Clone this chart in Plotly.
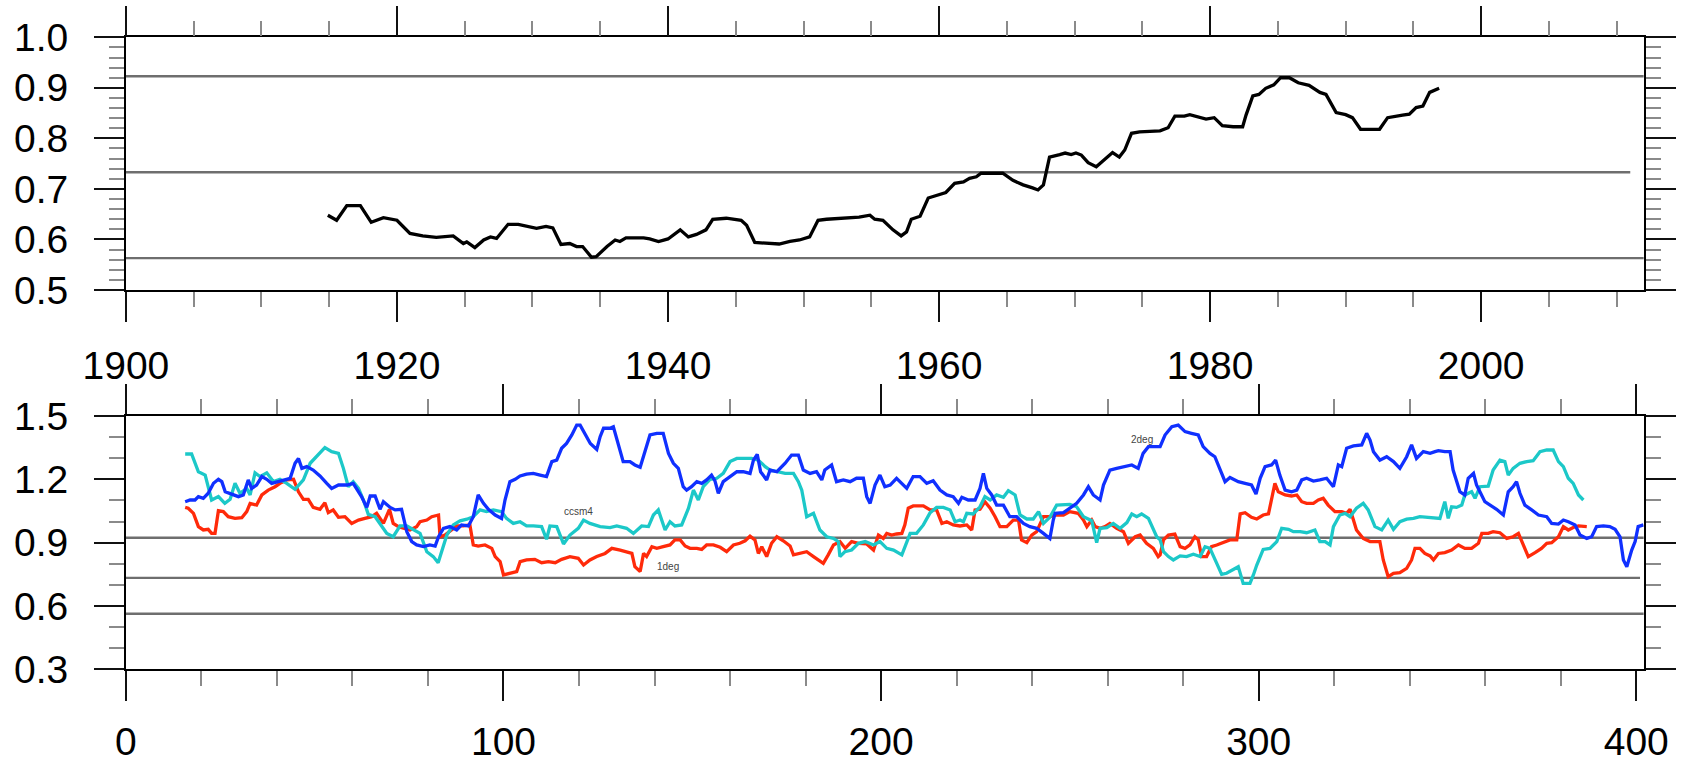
import plotly.graph_objects as go

# ---------------- data ----------------
# Top panel: observed running index (year, value)
top_years = [1914.9, 1915.55, 1916.3, 1917.3, 1918.1, 1919.0, 1920.0, 1920.96, 1921.9, 1922.9,
             1924.15, 1924.9, 1925.15, 1925.75, 1926.4, 1926.9, 1927.35, 1928.2, 1928.95, 1930.3,
             1931.0, 1931.5, 1932.1, 1932.75, 1933.25, 1933.7, 1934.35, 1934.7, 1935.5, 1936.1,
             1936.45, 1936.9, 1938.2, 1938.65, 1939.3, 1940.0, 1940.9, 1941.5, 1942.1, 1942.8,
             1943.3, 1944.3, 1945.4, 1945.8, 1946.4, 1947.25, 1948.2, 1949.0, 1949.7, 1950.45,
             1951.07, 1951.7, 1953.16, 1954.1, 1954.9, 1955.25, 1955.86, 1956.6, 1957.2, 1957.6,
             1957.95, 1958.6, 1959.2, 1960.0, 1960.5, 1961.15, 1961.8, 1962.25, 1962.75, 1963.1,
             1964.0, 1964.7, 1965.45, 1966.2, 1966.9, 1967.3, 1967.7, 1968.15, 1968.9, 1969.3,
             1969.75, 1970.1, 1970.5, 1971.0, 1971.6, 1972.2, 1972.8, 1973.3, 1973.7, 1974.2,
             1974.8, 1976.3, 1976.9, 1977.4, 1978.1, 1978.5, 1979.0, 1979.7, 1980.3, 1980.9,
             1981.7, 1982.4, 1982.65, 1983.15, 1983.6, 1984.1, 1984.7, 1985.2, 1985.85, 1986.5,
             1987.3, 1988.1, 1988.55, 1989.3, 1990.0, 1990.5, 1991.1, 1992.5, 1993.1, 1993.7,
             1994.2, 1994.7, 1995.2, 1995.7, 1996.2, 1996.9]
top_vals = [0.648, 0.638, 0.667, 0.667, 0.634, 0.643, 0.638, 0.612, 0.607, 0.604,
            0.607, 0.592, 0.595, 0.584, 0.599, 0.605, 0.602, 0.630, 0.630, 0.622,
            0.626, 0.623, 0.590, 0.592, 0.586, 0.586, 0.565, 0.566, 0.586, 0.599,
            0.596, 0.603, 0.603, 0.601, 0.596, 0.601, 0.619, 0.605, 0.610, 0.619,
            0.640, 0.642, 0.638, 0.628, 0.594, 0.592, 0.591, 0.596, 0.599, 0.605,
            0.638, 0.640, 0.642, 0.644, 0.648, 0.640, 0.638, 0.619, 0.607, 0.615,
            0.640, 0.646, 0.682, 0.688, 0.693, 0.711, 0.714, 0.721, 0.724, 0.731,
            0.731, 0.731, 0.717, 0.708, 0.702, 0.698, 0.708, 0.763, 0.768, 0.771,
            0.768, 0.771, 0.767, 0.752, 0.744, 0.757, 0.772, 0.763, 0.777, 0.810,
            0.813, 0.815, 0.821, 0.844, 0.844, 0.847, 0.843, 0.838, 0.841, 0.825,
            0.823, 0.823, 0.846, 0.884, 0.887, 0.899, 0.906, 0.920, 0.920, 0.910,
            0.905, 0.891, 0.887, 0.851, 0.847, 0.841, 0.818, 0.818, 0.841, 0.843,
            0.846, 0.848, 0.861, 0.864, 0.891, 0.899]

# Reference levels drawn in both panels
ref_levels = [0.923, 0.733, 0.563]
top_ref_end = [2012, 2011, 2012]
bot_ref_end = [402, 401, 402]

# Bottom panel: model runs (index, value)
deg1_x = [15.7, 16.5, 17.9, 19.2, 20.5, 21.8, 22.7, 23.6, 24.5, 25.8, 27.1, 28.9, 30.7, 32.0, 32.9,
          34.6, 36.0, 37.7, 39.5, 40.8, 42.6, 44.4, 45.7, 47.0, 48.3, 49.6, 51.4, 52.7, 53.6, 54.9,
          56.3, 58.0, 59.8, 61.6, 63.3, 65.1, 66.4, 68.2, 69.8, 70.8, 72.2, 73.5, 75.2, 77.0, 77.9,
          79.7, 81.0, 82.8, 83.2, 84.5, 86.3, 87.6, 89.4, 91.1, 92.0, 93.3, 95.1, 96.9, 97.8, 99.1,
          100.0, 101.7, 103.5, 104.4, 106.1, 108.3, 110.1, 111.9, 113.7, 115.4, 117.6, 119.8, 121.2,
          122.9, 124.7, 126.9, 128.7, 130.9, 132.6, 134.0, 134.8, 136.2, 137.1, 137.9, 139.3, 140.6,
          142.3, 144.1, 145.4, 146.8, 148.1, 149.4, 151.2, 152.5, 153.8, 155.6, 157.4, 159.1, 160.9,
          162.6, 164.0, 165.3, 166.6, 167.5, 168.4, 169.7, 171.0, 172.4, 174.1, 175.9, 176.8, 178.5,
          180.3, 182.1, 183.4, 184.7, 186.0, 187.4, 189.1, 190.5, 192.2, 194.0, 196.2, 198.0, 199.3,
          200.6, 201.5, 202.8, 204.1, 205.5, 206.3, 207.2, 208.5, 211.2, 213.0, 214.7, 216.1, 217.4,
          219.1, 220.9, 222.7, 224.0, 224.9, 226.2, 227.5, 228.9, 230.2, 231.5, 233.3, 235.0, 236.4,
          237.2, 238.6, 239.9, 241.2, 243.0, 244.7, 246.5, 248.3, 250.0, 252.2, 253.6, 254.5, 255.8,
          256.7, 258.0, 259.3, 260.6, 262.4, 264.2, 265.5, 267.3, 268.6, 270.3, 272.1, 273.4, 273.9,
          274.8, 276.1, 277.8, 279.2, 280.5, 281.8, 283.1, 284.0, 284.9, 286.2, 287.5, 288.9, 290.6,
          292.4, 294.2, 295.1, 296.4, 298.1, 299.5, 301.2, 302.6, 303.4, 304.3, 305.2, 307.0, 308.7,
          310.1, 311.4, 312.7, 314.5, 315.8, 317.1, 318.4, 320.2, 322.0, 323.3, 324.2, 325.1, 325.9,
          327.7, 329.5, 331.2, 332.1, 333.0, 334.3, 335.7, 337.4, 339.2, 340.5, 341.4, 342.7, 344.0,
          345.4, 346.3, 347.6, 349.3, 351.1, 352.9, 354.6, 356.4, 358.2, 359.1, 360.8, 362.1, 363.9,
          365.7, 367.4, 368.8, 370.1, 371.4, 373.2, 374.9, 376.3, 377.6, 379.4, 380.7, 382.0, 383.3,
          384.7, 386.9]
deg1_y = [1.067, 1.063, 1.039, 0.976, 0.960, 0.963, 0.944, 0.944, 1.051, 1.047, 1.023, 1.015, 1.018,
          1.047, 1.086, 1.078, 1.126, 1.149, 1.165, 1.181, 1.197, 1.200, 1.141, 1.105, 1.105, 1.067,
          1.058, 1.089, 1.042, 1.055, 1.020, 1.023, 0.991, 1.007, 1.015, 1.023, 1.039, 0.991, 1.058,
          0.991, 0.976, 0.968, 0.960, 0.976, 0.999, 1.007, 1.023, 1.031, 0.928, 0.936, 0.960, 0.979,
          0.979, 0.984, 0.889, 0.884, 0.889, 0.873, 0.834, 0.810, 0.747, 0.755, 0.763, 0.810, 0.818,
          0.821, 0.805, 0.810, 0.805, 0.821, 0.834, 0.826, 0.794, 0.818, 0.834, 0.849, 0.873, 0.865,
          0.857, 0.849, 0.786, 0.763, 0.849, 0.834, 0.881, 0.873, 0.881, 0.889, 0.913, 0.913, 0.884,
          0.873, 0.873, 0.868, 0.889, 0.889, 0.878, 0.857, 0.889, 0.897, 0.909, 0.931, 0.913, 0.849,
          0.881, 0.834, 0.897, 0.928, 0.909, 0.884, 0.842, 0.849, 0.857, 0.834, 0.818, 0.802, 0.842,
          0.889, 0.905, 0.873, 0.905, 0.897, 0.894, 0.865, 0.936, 0.920, 0.944, 0.936, 0.941, 0.944,
          0.984, 1.063, 1.074, 1.074, 1.055, 1.055, 0.991, 0.999, 0.984, 0.979, 0.984, 0.960, 1.055,
          1.058, 1.094, 1.063, 1.023, 0.976, 0.976, 1.007, 1.007, 0.913, 0.900, 0.936, 0.952, 1.023,
          1.023, 1.031, 1.031, 1.047, 1.039, 1.007, 0.976, 1.007, 0.976, 0.968, 0.976, 0.991, 0.968,
          0.952, 0.897, 0.928, 0.936, 0.897, 0.873, 0.834, 0.842, 0.913, 0.936, 0.941, 0.881, 0.873,
          0.889, 0.928, 0.913, 0.834, 0.834, 0.881, 0.889, 0.900, 0.913, 0.913, 1.036, 1.042, 1.020,
          1.012, 1.031, 1.036, 1.102, 1.181, 1.141, 1.126, 1.121, 1.126, 1.094, 1.086, 1.086, 1.102,
          1.110, 1.078, 1.047, 1.047, 1.039, 1.058, 1.007, 0.960, 0.920, 0.905, 0.905, 0.905, 0.818,
          0.739, 0.755, 0.758, 0.778, 0.818, 0.873, 0.873, 0.849, 0.837, 0.818, 0.849, 0.853, 0.865,
          0.889, 0.873, 0.873, 0.897, 0.944, 0.944, 0.952, 0.947, 0.920, 0.928, 0.944, 0.889, 0.834,
          0.853, 0.873, 0.897, 0.900, 0.928, 0.976, 0.960, 0.972, 0.979, 0.976]

ccsm4_x = [15.7, 17.4, 19.2, 21.0, 22.7, 24.5, 26.2, 27.6, 28.9, 30.2, 32.0, 32.9, 34.2, 35.5, 37.3,
           39.1, 40.8, 42.6, 44.8, 47.0, 48.8, 50.5, 52.7, 54.5, 56.3, 57.6, 58.9, 60.2, 61.6, 62.9,
           64.2, 66.0, 67.3, 69.1, 70.8, 72.6, 74.4, 76.1, 77.9, 79.7, 81.4, 82.7, 83.6, 85.0, 86.7,
           88.5, 90.3, 92.0, 93.8, 95.5, 97.3, 99.5, 100.8, 102.6, 104.4, 106.1, 107.9, 110.1, 111.4,
           112.3, 114.1, 115.9, 117.6, 119.8, 121.2, 122.9, 125.6, 128.2, 130.0, 132.6, 134.4, 136.6,
           138.4, 139.7, 141.0, 142.8, 144.1, 145.4, 147.2, 149.0, 150.3, 151.6, 152.9, 154.7, 156.5,
           158.2, 160.0, 161.8, 163.5, 165.7, 167.5, 169.3, 170.6, 172.4, 174.6, 176.8, 178.1, 179.0,
           180.3, 182.1, 183.8, 185.6, 187.4, 188.7, 189.1, 190.4, 192.2, 194.0, 195.8, 198.0, 199.7,
           201.5, 203.3, 205.5, 206.3, 207.7, 209.4, 211.2, 213.0, 214.7, 216.5, 218.3, 219.6, 220.9,
           221.8, 222.7, 224.4, 226.2, 227.5, 228.9, 230.6, 232.4, 233.7, 235.5, 236.8, 238.6, 240.3,
           241.7, 243.0, 244.7, 246.5, 248.3, 250.0, 251.8, 253.6, 255.8, 257.1, 258.0, 259.8, 261.5,
           263.3, 265.1, 266.4, 267.7, 269.0, 270.8, 273.0, 273.9, 274.8, 276.1, 277.4, 279.2, 280.9,
           282.7, 284.5, 285.8, 287.1, 288.9, 290.2, 291.5, 293.3, 294.6, 295.9, 297.7, 298.6, 299.5,
           301.2, 303.0, 304.8, 306.1, 307.9, 309.2, 311.0, 312.7, 314.9, 316.2, 317.6, 318.9, 319.8,
           321.5, 322.9, 324.2, 325.9, 327.7, 329.0, 330.8, 332.6, 334.3, 335.7, 337.4, 339.2, 341.0,
           342.7, 344.5, 346.3, 348.0, 349.3, 350.2, 351.1, 352.4, 353.8, 354.6, 356.4, 357.3, 358.6,
           360.8, 362.1, 363.9, 365.2, 366.1, 367.4, 369.2, 371.0, 372.7, 374.5, 376.3, 378.0, 379.4,
           380.7, 382.0, 383.3, 384.7, 386.0]
ccsm4_y = [1.320, 1.320, 1.236, 1.220, 1.102, 1.118, 1.086, 1.105, 1.181, 1.134, 1.157, 1.126, 1.231,
           1.213, 1.231, 1.189, 1.200, 1.181, 1.153, 1.197, 1.276, 1.307, 1.350, 1.331, 1.323, 1.252,
           1.165, 1.189, 1.157, 1.102, 1.034, 1.023, 0.991, 0.944, 0.928, 0.979, 0.979, 0.960, 0.944,
           0.857, 0.834, 0.805, 0.857, 0.936, 0.984, 1.003, 1.011, 1.023, 1.055, 1.047, 1.055, 1.047,
           1.015, 0.991, 0.999, 0.979, 0.979, 0.976, 0.916, 0.979, 0.976, 0.894, 0.936, 0.968, 1.007,
           0.991, 0.976, 0.971, 0.979, 0.968, 0.944, 0.979, 0.976, 1.031, 1.055, 0.960, 0.999, 0.979,
           0.984, 1.063, 1.149, 1.102, 1.165, 1.200, 1.205, 1.228, 1.284, 1.299, 1.299, 1.299, 1.291,
           1.260, 1.244, 1.236, 1.228, 1.228, 1.189, 1.149, 1.023, 1.039, 0.960, 0.928, 0.920, 0.905,
           0.834, 0.857, 0.865, 0.897, 0.905, 0.889, 0.905, 0.873, 0.865, 0.842, 0.881, 0.944, 0.944,
           0.984, 1.042, 1.067, 1.067, 1.055, 0.999, 1.007, 0.999, 1.039, 1.036, 1.070, 1.118, 1.102,
           1.126, 1.115, 1.146, 1.126, 1.031, 1.012, 1.012, 1.047, 0.991, 1.020, 1.078, 1.078, 1.081,
           1.070, 1.023, 1.004, 0.900, 0.968, 0.971, 0.991, 0.968, 0.995, 1.036, 1.023, 1.036, 1.015,
           0.928, 0.913, 0.857, 0.834, 0.818, 0.837, 0.834, 0.845, 0.834, 0.881, 0.873, 0.802, 0.750,
           0.755, 0.774, 0.786, 0.707, 0.707, 0.747, 0.794, 0.868, 0.873, 0.905, 0.968, 0.963, 0.952,
           0.952, 0.947, 0.960, 0.905, 0.905, 0.889, 0.976, 1.031, 1.039, 1.023, 1.063, 1.086, 1.055,
           0.976, 0.960, 1.007, 0.963, 0.999, 1.011, 1.015, 1.023, 1.020, 1.020, 1.015, 1.094, 1.015,
           1.070, 1.067, 1.078, 1.126, 1.141, 1.110, 1.165, 1.168, 1.244, 1.291, 1.284, 1.220, 1.252,
           1.276, 1.284, 1.288, 1.331, 1.339, 1.339, 1.284, 1.260, 1.205, 1.181, 1.126, 1.102]

deg2_x = [15.7, 17.0, 18.3, 19.2, 20.5, 21.8, 23.2, 24.5, 25.4, 26.3, 28.0, 29.8, 31.1, 32.4, 33.3,
          34.6, 36.0, 37.3, 38.6, 40.4, 42.1, 43.5, 44.8, 45.7, 46.6, 47.9, 49.6, 51.4, 53.2, 54.5,
          56.3, 58.5, 60.2, 61.1, 62.4, 63.8, 64.7, 66.0, 67.3, 68.2, 70.0, 71.3, 73.0, 74.4, 75.7,
          77.0, 78.8, 80.5, 81.9, 82.8, 84.1, 85.8, 87.6, 88.9, 90.7, 92.0, 93.3, 94.7, 96.0, 97.8,
          99.5, 100.4, 101.7, 103.1, 104.4, 106.1, 107.9, 109.7, 111.4, 112.8, 114.1, 115.4, 116.7,
          118.1, 119.4, 120.3, 121.6, 123.0, 124.7, 125.6, 126.5, 128.2, 129.1, 130.4, 131.7, 133.5,
          134.8, 136.2, 137.5, 138.8, 140.6, 142.3, 143.7, 145.0, 146.3, 147.6, 148.5, 149.8, 151.2,
          152.5, 153.8, 155.1, 156.0, 156.9, 158.2, 160.0, 161.8, 163.5, 165.3, 166.2, 167.2, 168.1,
          169.7, 170.6, 172.4, 174.6, 176.3, 178.1, 179.4, 181.2, 182.9, 184.3, 185.1, 186.9, 188.2,
          190.0, 191.8, 193.5, 195.3, 196.2, 197.1, 198.4, 199.7, 201.0, 202.4, 204.1, 205.5, 206.8,
          208.5, 210.3, 212.1, 213.8, 215.6, 217.4, 219.1, 220.5, 221.4, 223.1, 224.9, 226.2, 227.1,
          228.0, 229.3, 230.6, 232.4, 234.1, 235.9, 237.7, 239.4, 241.2, 243.0, 244.7, 245.6, 246.1,
          248.3, 250.0, 251.8, 253.6, 254.9, 256.2, 258.0, 258.9, 260.6, 262.4, 264.2, 266.4, 268.1,
          269.4, 270.8, 273.9, 275.2, 277.0, 278.7, 280.5, 282.2, 284.0, 285.3, 287.1, 288.4, 289.8,
          291.1, 292.4, 294.6, 296.4, 298.1, 299.3, 300.4, 301.7, 303.4, 304.5, 305.6, 307.0, 308.7,
          310.1, 311.4, 312.7, 314.5, 316.2, 318.0, 319.8, 321.1, 322.0, 323.3, 325.1, 327.3, 328.6,
          329.5, 330.4, 332.1, 333.9, 335.7, 337.4, 339.2, 340.5, 341.8, 343.6, 345.4, 346.7, 347.6,
          349.3, 350.7, 351.5, 352.4, 353.3, 354.6, 355.5, 356.9, 357.7, 358.6, 359.9, 361.3, 363.0,
          364.8, 366.1, 367.4, 368.3, 369.2, 370.5, 372.3, 374.1, 376.3, 377.6, 379.4, 380.7, 382.0,
          383.8, 385.1, 386.9, 388.2, 389.5, 391.3, 393.0, 394.4, 395.7, 396.6, 397.5, 398.8, 399.7,
          400.5, 401.9]
deg2_y = [1.094, 1.102, 1.102, 1.118, 1.110, 1.134, 1.181, 1.200, 1.189, 1.141, 1.130, 1.118, 1.126,
          1.197, 1.157, 1.173, 1.213, 1.200, 1.181, 1.189, 1.200, 1.205, 1.276, 1.299, 1.252, 1.260,
          1.244, 1.216, 1.181, 1.157, 1.173, 1.173, 1.181, 1.157, 1.118, 1.067, 1.121, 1.121, 1.058,
          1.094, 1.067, 1.055, 1.058, 0.952, 0.905, 0.889, 0.881, 0.889, 0.884, 0.928, 0.968, 0.976,
          0.960, 0.984, 0.979, 1.023, 1.126, 1.086, 1.058, 1.031, 1.015, 1.102, 1.189, 1.200, 1.216,
          1.225, 1.228, 1.220, 1.213, 1.284, 1.291, 1.347, 1.370, 1.410, 1.457, 1.457, 1.418, 1.370,
          1.342, 1.402, 1.442, 1.442, 1.449, 1.370, 1.284, 1.284, 1.268, 1.257, 1.331, 1.410, 1.418,
          1.418, 1.323, 1.276, 1.252, 1.165, 1.149, 1.165, 1.189, 1.181, 1.197, 1.220, 1.193, 1.134,
          1.189, 1.213, 1.236, 1.236, 1.228, 1.291, 1.318, 1.236, 1.197, 1.244, 1.236, 1.276, 1.315,
          1.315, 1.244, 1.228, 1.236, 1.197, 1.244, 1.268, 1.189, 1.197, 1.189, 1.205, 1.205, 1.118,
          1.086, 1.173, 1.220, 1.165, 1.173, 1.205, 1.181, 1.157, 1.213, 1.213, 1.181, 1.193, 1.149,
          1.126, 1.118, 1.086, 1.115, 1.102, 1.102, 1.157, 1.228, 1.157, 1.126, 1.078, 1.078, 1.023,
          1.023, 0.991, 0.976, 0.968, 0.944, 0.920, 1.007, 1.039, 1.042, 1.063, 1.086, 1.126, 1.165,
          1.126, 1.102, 1.173, 1.244, 1.252, 1.260, 1.268, 1.252, 1.323, 1.355, 1.355, 1.410, 1.449,
          1.457, 1.426, 1.418, 1.410, 1.355, 1.323, 1.307, 1.244, 1.189, 1.209, 1.189, 1.181, 1.173,
          1.130, 1.205, 1.260, 1.268, 1.291, 1.220, 1.149, 1.141, 1.149, 1.197, 1.205, 1.192, 1.197,
          1.205, 1.165, 1.268, 1.260, 1.347, 1.358, 1.363, 1.418, 1.386, 1.331, 1.291, 1.307, 1.284,
          1.252, 1.307, 1.363, 1.299, 1.331, 1.323, 1.331, 1.336, 1.331, 1.331, 1.244, 1.197, 1.141,
          1.126, 1.205, 1.228, 1.173, 1.141, 1.094, 1.078, 1.058, 1.031, 1.141, 1.165, 1.189, 1.134,
          1.078, 1.055, 1.031, 1.023, 0.991, 0.988, 1.007, 0.999, 0.984, 0.936, 0.920, 0.928, 0.976,
          0.979, 0.976, 0.963, 0.928, 0.818, 0.786, 0.865, 0.905, 0.976, 0.984]

labels = ["ccsm4", "1deg", "2deg"]
label_x = [119.9, 143.6, 269.2]
label_y = [1.047, 0.786, 1.39]

# ---------------- figure ----------------
W, H = 1684, 765
XL, XR = 125.9, 1643.8
TOP_T, TOP_B = 37.3, 290.0
BOT_T, BOT_B = 416.0, 669.3

FONT = "Liberation Sans, Arial, Helvetica, sans-serif"
REF_COLOR = "#6e6e6e"

fig = go.Figure()

for lvl, xe in zip(ref_levels, top_ref_end):
    fig.add_trace(go.Scatter(x=[1900, xe], y=[lvl, lvl], mode="lines",
                             line=dict(color=REF_COLOR, width=2.4),
                             xaxis="x", yaxis="y", showlegend=False, hoverinfo="skip"))
fig.add_trace(go.Scatter(x=top_years, y=top_vals, mode="lines",
                         line=dict(color="black", width=3.3),
                         xaxis="x", yaxis="y", showlegend=False))

for lvl, xe in zip(ref_levels, bot_ref_end):
    fig.add_trace(go.Scatter(x=[0, xe], y=[lvl, lvl], mode="lines",
                             line=dict(color=REF_COLOR, width=2.4),
                             xaxis="x2", yaxis="y2", showlegend=False, hoverinfo="skip"))

fig.add_trace(go.Scatter(x=deg1_x, y=deg1_y, mode="lines", name="1deg",
                         line=dict(color="#ff2a0a", width=3.3),
                         xaxis="x2", yaxis="y2", showlegend=False))
fig.add_trace(go.Scatter(x=ccsm4_x, y=ccsm4_y, mode="lines", name="ccsm4",
                         line=dict(color="#1cc8c8", width=3.3),
                         xaxis="x2", yaxis="y2", showlegend=False))
fig.add_trace(go.Scatter(x=deg2_x, y=deg2_y, mode="lines", name="2deg",
                         line=dict(color="#1030ff", width=3.3),
                         xaxis="x2", yaxis="y2", showlegend=False))

for t, lx, ly in zip(labels, label_x, label_y):
    fig.add_annotation(x=lx, y=ly, xref="x2", yref="y2", text=t, showarrow=False,
                       font=dict(family=FONT, size=10, color="#444444"))

xdom = [XL / W, XR / W]
top_dom = [1 - TOP_B / H, 1 - TOP_T / H]
bot_dom = [1 - BOT_B / H, 1 - BOT_T / H]

common = dict(showline=True, linecolor="black", linewidth=1.6, mirror="ticks",
              ticks="outside", ticklen=30, tickwidth=2, tickcolor="#111111",
              showgrid=False, zeroline=False, automargin=False,
              tickfont=dict(family=FONT, size=39, color="black"))

minor_common = dict(ticks="outside", ticklen=15, tickwidth=1.5, tickcolor="#8a8a8a", showgrid=False)

fig.update_layout(
    width=W, height=H,
    margin=dict(l=0, r=0, t=0, b=0, autoexpand=False),
    paper_bgcolor="white", plot_bgcolor="white",
    showlegend=False,
    xaxis=dict(domain=xdom, anchor="y", range=[1900, 2012], tickmode="linear",
               tick0=1900, dtick=20, ticklabelstandoff=10,
               minor=dict(tick0=1900, dtick=5, **minor_common), **common),
    yaxis=dict(domain=top_dom, anchor="x", range=[0.5, 1.0], tickmode="linear",
               tick0=0.5, dtick=0.1, tickformat=".1f", ticklabelstandoff=18,
               minor=dict(tick0=0.5, dtick=0.02, **minor_common), **common),
    xaxis2=dict(domain=xdom, anchor="y2", range=[0, 402], tickmode="linear",
                tick0=0, dtick=100, ticklabelstandoff=7,
                minor=dict(tick0=0, dtick=20, **minor_common), **common),
    yaxis2=dict(domain=bot_dom, anchor="x2", range=[0.3, 1.5], tickmode="linear",
                tick0=0.3, dtick=0.3, tickformat=".1f", ticklabelstandoff=18,
                minor=dict(tick0=0.3, dtick=0.1, **minor_common), **common),
)

fig.write_html("out.html")
